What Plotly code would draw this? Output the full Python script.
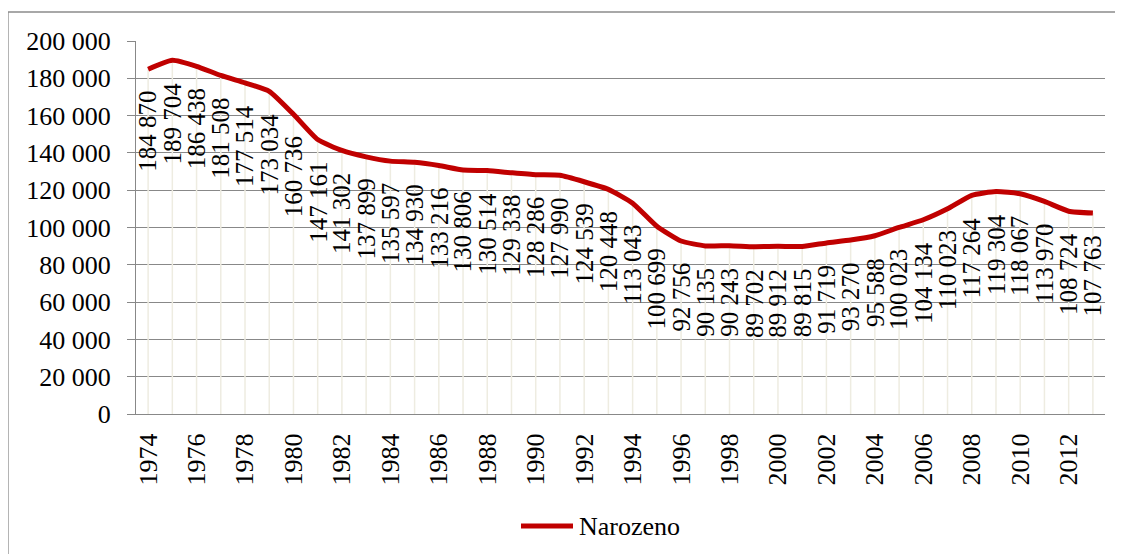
import plotly.graph_objects as go

years = list(range(1974, 2014))
narozeno = [184870, 189704, 186438, 181508, 177514, 173034, 160736, 147161,
            141302, 137899, 135597, 134930, 133216, 130806, 130514, 129338,
            128286, 127990, 124539, 120448, 113043, 100699, 92756, 90135,
            90243, 89702, 89912, 89815, 91719, 93270, 95588, 100023,
            104134, 110023, 117264, 119304, 118067, 113970, 108724, 107763]
tick_years = list(range(1974, 2013, 2))
series_name = "Narozeno"

FONT = "'Liberation Serif', 'Times New Roman', Tinos, 'DejaVu Serif', serif"
GRID = "#888888"
RED = "#C00000"

def fmt(v):
    return f"{v:,}".replace(",", " ")

fig = go.Figure()

# drop lines
dx, dy = [], []
for x, v in zip(years, narozeno):
    dx += [x, x, None]
    dy += [0, v, None]
fig.add_trace(go.Scatter(x=dx, y=dy, mode="lines",
                         line=dict(color="#EEECE1", width=1.5),
                         showlegend=False, hoverinfo="skip"))

fig.add_trace(go.Scatter(x=years, y=narozeno, mode="lines", name=series_name,
                         line=dict(color=RED, width=5, shape="spline", smoothing=0.5),
                         showlegend=False))

for x, v in zip(years, narozeno):
    fig.add_annotation(x=x, y=v, text=fmt(v), textangle=-90, showarrow=False,
                       xanchor="center", yanchor="top", yshift=-20,
                       font=dict(family=FONT, size=25, color="black"))

OFF = 8  # page body margin
W, H = 1123 - OFF, 554 - OFF
L, R, T = 136 - OFF, 1123 - 1105, 41 - OFF
B = H - (414 - OFF)
pw, ph = W - L - R, H - T - B

def px(xp):
    return (xp - OFF - L) / pw

def py(yp):
    return (H - B - (yp - OFF)) / ph

# outer border
fig.add_shape(type="rect", xref="paper", yref="paper",
              x0=px(8), x1=px(1140), y0=py(580), y1=py(12),
              line=dict(color="#8c8c8c", width=1.3), layer="below")

# custom legend
fig.add_shape(type="line", xref="paper", yref="paper",
              x0=px(521), x1=px(573), y0=py(526), y1=py(526),
              line=dict(color=RED, width=5))
fig.add_annotation(xref="paper", yref="paper", x=px(577), y=py(526),
                   text=series_name, showarrow=False, xanchor="left", yanchor="middle",
                   font=dict(family=FONT, size=26, color="black"))

fig.update_layout(
    width=W, height=H,
    margin=dict(l=L, r=R, t=T, b=B),
    paper_bgcolor="white", plot_bgcolor="white",
    separators=". ",
    showlegend=False,
    font=dict(family=FONT, size=26, color="black"),
)
fig.update_xaxes(range=[1973.5, 2013.5], tickvals=tick_years,
                 ticktext=[str(y) for y in tick_years], tickangle=-90,
                 showgrid=False, showline=True, linecolor=GRID, linewidth=1.3,
                 ticks="", ticklabelstandoff=8, zeroline=False)
fig.update_yaxes(range=[0, 200000], dtick=20000, tickformat=",d",
                 showgrid=True, gridcolor=GRID, gridwidth=1.3,
                 showline=True, linecolor=GRID, linewidth=1.3,
                 ticks="outside", ticklen=8, tickcolor=GRID, tickwidth=1.3,
                 ticklabelstandoff=11, zeroline=False)

fig.write_html("out.html")
